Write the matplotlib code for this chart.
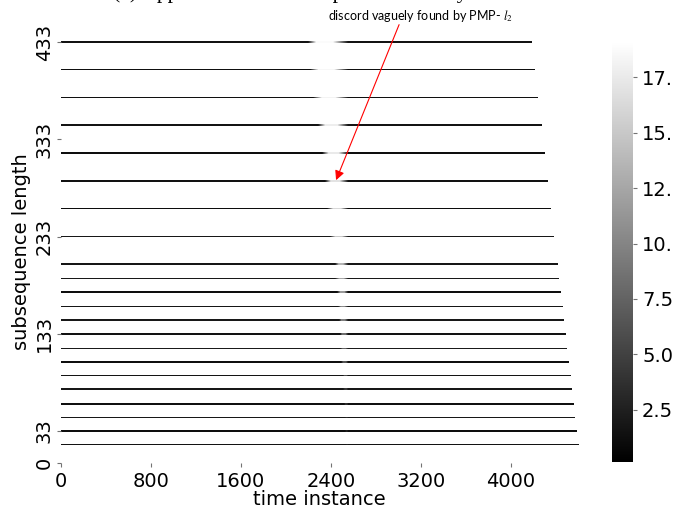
import numpy as np
import matplotlib
matplotlib.use('Agg')
import matplotlib.pyplot as plt

plt.rcParams['mathtext.fontset'] = 'stix'

# length of the time series, every row has series_len - L + 1 windows
series_len = 4620

# subsequence lengths that were computed (one heatmap row each)
lengths = [19, 33, 47, 61, 76, 90, 104, 118, 133, 147, 161,
           176, 190, 205, 233, 262, 290, 319, 348, 376, 405, 433]

# usual profile level of a row, and the level at the discord
base_level = [1.6, 1.2, 1.9, 1.4, 2.0, 1.7, 1.3, 2.1, 1.5, 2.0, 1.8,
              1.2, 2.0, 1.8, 1.9, 1.1, 1.5, 1.2, 1.7, 1.4, 1.3, 1.6]
peak_level = [2.2, 2.5, 3.0, 3.5, 4.5, 5.5, 6.5, 7.5, 8.5, 9.5, 10.5,
              11.5, 12.5, 13.5, 15.0, 16.2, 17.0, 17.5, 17.8, 18.2, 18.5, 18.8]

# where the bright zone of each row starts / is flat / ends (time instance)
bump_start = [2536, 2527, 2527, 2518, 2509, 2509, 2492, 2483, 2483, 2474, 2465,
              2456, 2438, 2438, 2394, 2367, 2349, 2323, 2287, 2243, 2216, 2198]
flat_start = [2540, 2535, 2535, 2530, 2525, 2520, 2510, 2505, 2500, 2495, 2490,
              2485, 2475, 2470, 2440, 2420, 2400, 2380, 2350, 2320, 2290, 2270]
flat_end = [2548, 2545, 2545, 2545, 2540, 2540, 2535, 2530, 2530, 2525, 2520,
            2520, 2515, 2510, 2500, 2490, 2480, 2470, 2460, 2440, 2430, 2420]
bump_end = 2554

x_ticks = [0, 800, 1600, 2400, 3200, 4000]
y_ticks = [0, 33, 133, 233, 333, 433]
cbar_ticks = [2.5, 5.0, 7.5, 10.0, 12.5, 15.0, 17.5]
vmin, vmax = 0.15, 19.1

fig = plt.figure(figsize=(6.73, 5.11), dpi=100)
ax = fig.add_axes([0.0902, 0.0939, 0.7695, 0.8265])
cax = fig.add_axes([0.9094, 0.0959, 0.0312, 0.8225])

mesh = None
for i, L in enumerate(lengths):
    n_win = series_len - L + 1
    t = np.arange(n_win)
    b = base_level[i]
    row = np.interp(t, [0, bump_start[i], flat_start[i], flat_end[i], bump_end, n_win - 1],
                    [b, b, peak_level[i], peak_level[i], b, b])
    mesh = ax.pcolormesh(np.arange(n_win + 1), [L - 0.8, L + 0.8], row[None, :],
                         cmap='gray', vmin=vmin, vmax=vmax, shading='flat')

ax.set_xlim(0, series_len - min(lengths) + 1)
ax.set_ylim(0, 434.5)
for s in ax.spines.values():
    s.set_visible(False)

ax.set_xticks(x_ticks)
ax.set_xticklabels([str(v) for v in x_ticks], fontsize=14)
ax.set_yticks(y_ticks)
ax.set_yticklabels([str(v) for v in y_ticks], fontsize=14, rotation=90, va='center')
ax.tick_params(length=3, width=0.8, color='0.45')
ax.tick_params(axis='y', pad=2)
ax.set_xlabel('time instance', fontsize=14, labelpad=-1)
ax.set_ylabel('subsequence length', fontsize=14, labelpad=3)

cbar = fig.colorbar(mesh, cax=cax)
cbar.outline.set_visible(False)
cbar.set_ticks(cbar_ticks)
cbar.ax.tick_params(labelsize=14, length=3, width=0.8, color='0.45')

# title is mostly outside the picture, only its lower part shows
fig.text(113 / 673, 1 + 2.0 / 511, '(c) Approximated matrix profile of all by PMP',
         family='Liberation Serif', fontsize=15.5, va='baseline')

fig.text(420 / 673, 1 - 16 / 511, 'discord vaguely found by PMP- $l_2$',
         ha='center', va='center', fontsize=9, family='Lato')
ax.annotate('', xy=(2447, 291), xytext=(3007, 451), annotation_clip=False,
            arrowprops=dict(arrowstyle='-|>', color='red', lw=0.8,
                            mutation_scale=14, shrinkA=0, shrinkB=0))

fig.savefig('out.png', dpi=100)
